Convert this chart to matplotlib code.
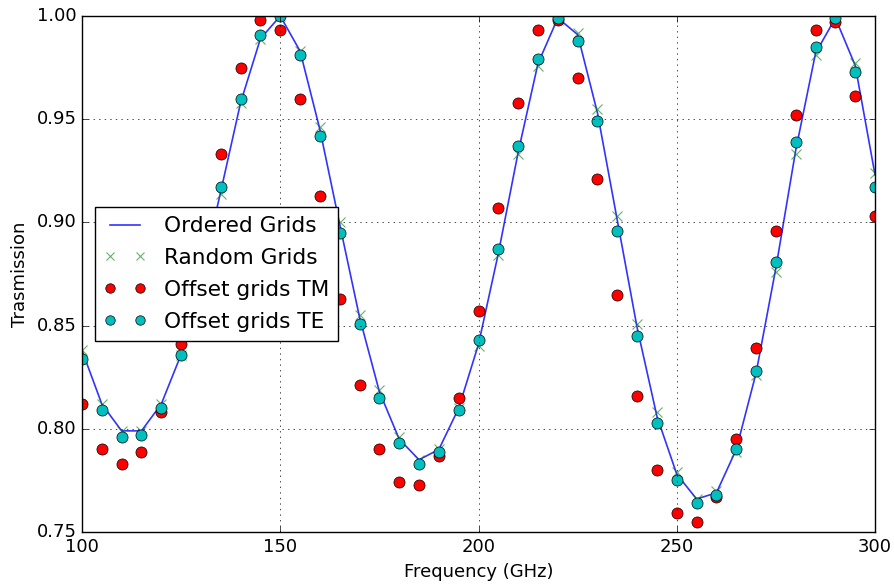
import numpy as np
import matplotlib
matplotlib.use("Agg")
import matplotlib.pyplot as plt

plt.style.use('classic')

# frequencies in GHz, one point every 5 GHz
freq = np.arange(100, 301, 5)

ordered = [0.838, 0.812, 0.799, 0.799, 0.812, 0.836, 0.873, 0.915, 0.958, 0.989,
           1.000, 0.983, 0.945, 0.899, 0.854, 0.818, 0.795, 0.785, 0.790, 0.810,
           0.841, 0.885, 0.934, 0.977, 0.999, 0.991, 0.953, 0.901, 0.849, 0.806,
           0.778, 0.766, 0.769, 0.790, 0.827, 0.878, 0.935, 0.982, 0.999, 0.976,
           0.923]
random_g = [0.838, 0.812, 0.799, 0.799, 0.812, 0.836, 0.872, 0.914, 0.958, 0.989,
            1.000, 0.983, 0.946, 0.900, 0.855, 0.819, 0.796, 0.785, 0.790, 0.810,
            0.840, 0.884, 0.933, 0.976, 0.998, 0.992, 0.955, 0.903, 0.851, 0.808,
            0.779, 0.766, 0.770, 0.789, 0.826, 0.876, 0.933, 0.981, 0.999, 0.977,
            0.924]
offset_tm = [0.812, 0.790, 0.783, 0.789, 0.808, 0.841, 0.885, 0.933, 0.975, 0.998,
             0.993, 0.960, 0.913, 0.863, 0.821, 0.790, 0.774, 0.773, 0.787, 0.815,
             0.857, 0.907, 0.958, 0.993, 0.998, 0.970, 0.921, 0.865, 0.816, 0.780,
             0.759, 0.755, 0.767, 0.795, 0.839, 0.896, 0.952, 0.993, 0.997, 0.961,
             0.903]
offset_te = [0.834, 0.809, 0.796, 0.797, 0.810, 0.836, 0.873, 0.917, 0.960, 0.991,
             1.000, 0.981, 0.942, 0.895, 0.851, 0.815, 0.793, 0.783, 0.789, 0.809,
             0.843, 0.887, 0.937, 0.979, 0.999, 0.988, 0.949, 0.896, 0.845, 0.803,
             0.775, 0.764, 0.768, 0.790, 0.828, 0.881, 0.939, 0.985, 0.999, 0.973,
             0.917]

fig = plt.figure(figsize=(8.94, 5.88), dpi=100, facecolor='white')
ax = fig.add_axes([0.0917, 0.0952, 0.8871, 0.8776])

ax.plot(freq, ordered, 'b-', linewidth=1.2, alpha=0.8, label='Ordered Grids')
ax.plot(freq, random_g, 'gx', markersize=7, markeredgewidth=0.8, alpha=0.6,
        label='Random Grids')
ax.plot(freq, offset_tm, 'ro', markersize=8, markeredgewidth=0.5, label='Offset grids TM')
ax.plot(freq, offset_te, 'co', markersize=8, markeredgewidth=0.5, label='Offset grids TE')

ax.set_xlim(100, 300)
ax.set_ylim(0.75, 1.00)
ax.set_xticks([100, 150, 200, 250, 300])
ax.set_yticks([0.75, 0.80, 0.85, 0.90, 0.95, 1.00])
ax.tick_params(labelsize=13)
ax.set_xlabel('Frequency (GHz)', fontsize=13)
ax.set_ylabel('Trasmission', fontsize=13)
ax.grid(True)

ax.legend(loc='center left', bbox_to_anchor=(0.008, 0.5), numpoints=2,
          fontsize=15.6, fancybox=False, borderaxespad=0.3, borderpad=0.4,
          labelspacing=0.55, markerscale=0.85)

fig.savefig('out.png', dpi=100, facecolor='white')
